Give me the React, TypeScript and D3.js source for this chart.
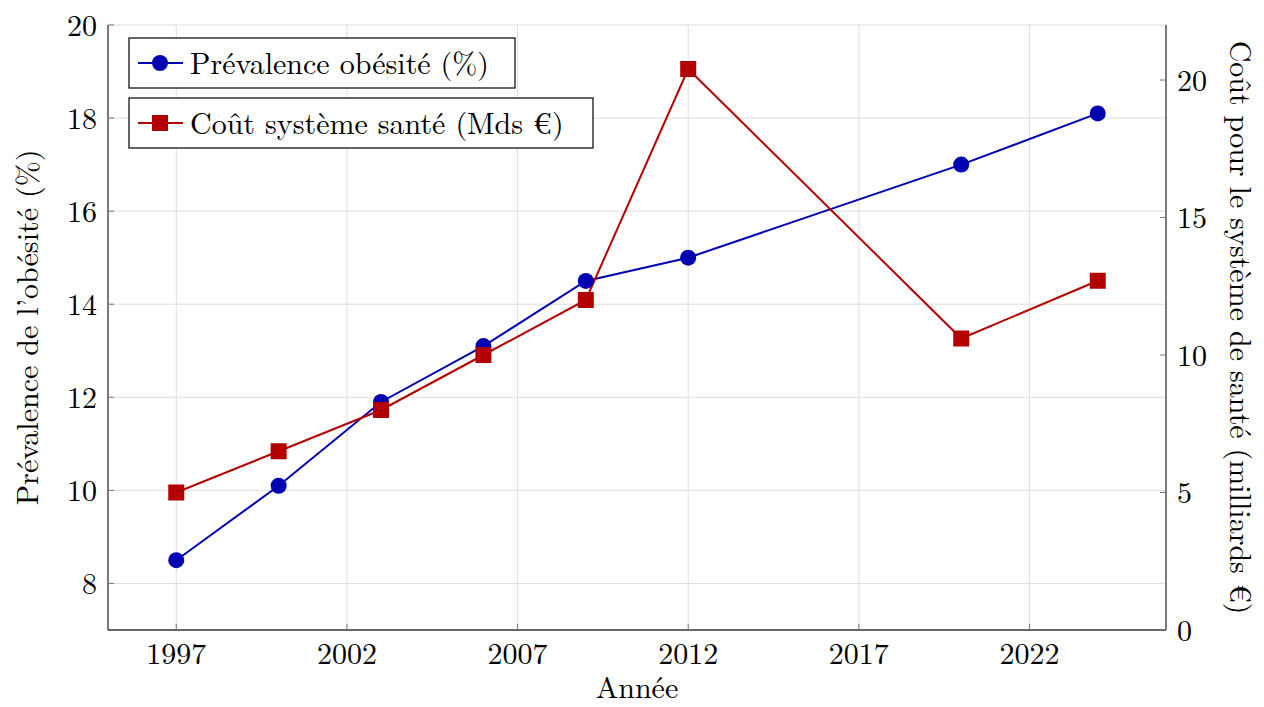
import * as d3 from 'd3';
import { useEffect, useRef } from 'react';

const years = [1997, 2000, 2003, 2006, 2009, 2012, 2020, 2024];
const obesity = [8.5, 10.1, 11.9, 13.1, 14.5, 15.0, 17.0, 18.1];
const cost = [5.0, 6.5, 8.0, 10.0, 12.0, 20.4, 10.6, 12.7];
const xTicks = [1997, 2002, 2007, 2012, 2017, 2022];
const leftTicks = [8, 10, 12, 14, 16, 18, 20];
const rightTicks = [0, 5, 10, 15, 20];

const BLUE = '#0000b3';
const RED = '#b30000';
const FONT = '"Latin Modern Roman", "Liberation Serif", "Times New Roman", serif';

const App = () => {
  const ref = useRef<SVGSVGElement | null>(null);

  useEffect(() => {
    const width = 1264;
    const height = 707;
    const m = { left: 108, right: 1166, top: 25, bottom: 630 };

    const svg = d3.select(ref.current).attr('width', width).attr('height', height);
    svg.selectAll('*').remove();

    const x = d3.scaleLinear().domain([1995, 2026]).range([m.left, m.right]);
    const yL = d3.scaleLinear().domain([7, 20]).range([m.bottom, m.top]);
    const yR = d3.scaleLinear().domain([0, 22]).range([m.bottom, m.top]);

    // grid
    const grid = svg.append('g').attr('stroke', '#dedede').attr('stroke-width', 1);
    xTicks.forEach((t) => {
      grid.append('line').attr('x1', x(t)).attr('x2', x(t)).attr('y1', m.top).attr('y2', m.bottom);
    });
    leftTicks.forEach((t) => {
      grid.append('line').attr('x1', m.left).attr('x2', m.right).attr('y1', yL(t)).attr('y2', yL(t));
    });

    // axis lines
    const ax = svg.append('g').attr('stroke', '#333').attr('stroke-width', 1.3);
    ax.append('line').attr('x1', m.left).attr('x2', m.left).attr('y1', m.top).attr('y2', m.bottom);
    ax.append('line').attr('x1', m.right).attr('x2', m.right).attr('y1', m.top).attr('y2', m.bottom);
    ax.append('line').attr('x1', m.left).attr('x2', m.right).attr('y1', m.bottom).attr('y2', m.bottom);

    const tickLen = 6;
    const ticks = svg.append('g').attr('stroke', '#777').attr('stroke-width', 1);
    xTicks.forEach((t) => {
      ticks.append('line').attr('x1', x(t)).attr('x2', x(t)).attr('y1', m.bottom).attr('y2', m.bottom - tickLen);
    });
    leftTicks.forEach((t) => {
      ticks.append('line').attr('x1', m.left).attr('x2', m.left + tickLen).attr('y1', yL(t)).attr('y2', yL(t));
    });
    rightTicks.forEach((t) => {
      ticks.append('line').attr('x1', m.right).attr('x2', m.right - tickLen).attr('y1', yR(t)).attr('y2', yR(t));
    });

    const label = svg.append('g').attr('font-family', FONT).attr('font-size', 30).attr('fill', '#000');
    xTicks.forEach((t) => {
      label.append('text').attr('x', x(t)).attr('y', m.bottom + 34).attr('text-anchor', 'middle').text(t);
    });
    leftTicks.forEach((t) => {
      label.append('text').attr('x', m.left - 11).attr('y', yL(t)).attr('dy', '0.35em').attr('text-anchor', 'end').text(t);
    });
    rightTicks.forEach((t) => {
      label.append('text').attr('x', m.right + 11).attr('y', yR(t)).attr('dy', '0.35em').attr('text-anchor', 'start').text(t);
    });

    label.append('text').attr('x', (m.left + m.right) / 2).attr('y', 698).attr('text-anchor', 'middle').text('Année');
    label
      .append('text')
      .attr('transform', `translate(38, ${(m.top + m.bottom) / 2}) rotate(-90)`)
      .attr('text-anchor', 'middle')
      .text('Prévalence de l’obésité (%)');
    label
      .append('text')
      .attr('transform', `translate(1230, ${(m.top + m.bottom) / 2}) rotate(90)`)
      .attr('text-anchor', 'middle')
      .text('Coût pour le système de santé (milliards €)');

    // series
    const lineL = d3.line<number>().x((_, i) => x(years[i])).y((d) => yL(d));
    const lineR = d3.line<number>().x((_, i) => x(years[i])).y((d) => yR(d));

    svg.append('path').attr('d', lineL(obesity)).attr('fill', 'none').attr('stroke', BLUE).attr('stroke-width', 2);
    svg.append('path').attr('d', lineR(cost)).attr('fill', 'none').attr('stroke', RED).attr('stroke-width', 2);

    obesity.forEach((v, i) => {
      svg.append('circle').attr('cx', x(years[i])).attr('cy', yL(v)).attr('r', 8).attr('fill', BLUE);
    });
    cost.forEach((v, i) => {
      svg.append('rect').attr('x', x(years[i]) - 8).attr('y', yR(v) - 8).attr('width', 16).attr('height', 16).attr('fill', RED);
    });

    // legend (two separate boxes)
    const legends = [
      { text: 'Prévalence obésité (%)', color: BLUE, shape: 'circle', y: 38, w: 386 },
      { text: 'Coût système santé (Mds €)', color: RED, shape: 'square', y: 98, w: 464 },
    ];
    legends.forEach((l) => {
      const g = svg.append('g').attr('transform', `translate(129, ${l.y})`);
      g.append('rect').attr('width', l.w).attr('height', 50).attr('fill', '#fff').attr('stroke', '#000').attr('stroke-width', 1.2);
      g.append('line').attr('x1', 9).attr('x2', 54).attr('y1', 25).attr('y2', 25).attr('stroke', l.color).attr('stroke-width', 2);
      if (l.shape === 'circle') g.append('circle').attr('cx', 31).attr('cy', 25).attr('r', 8).attr('fill', l.color);
      else g.append('rect').attr('x', 23).attr('y', 17).attr('width', 16).attr('height', 16).attr('fill', l.color);
      g.append('text').attr('x', 61).attr('y', 25).attr('dy', '0.35em').attr('font-family', FONT).attr('font-size', 30).text(l.text);
    });
  }, []);

  return <svg ref={ref} style={{ position: 'absolute', left: 0, top: 0 }}></svg>;
};

export default App;
